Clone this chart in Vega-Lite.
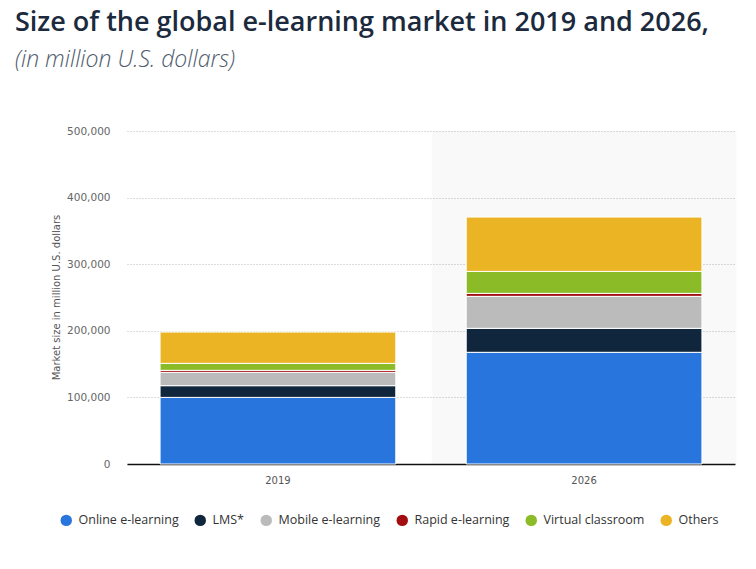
{
  "$schema": "https://vega.github.io/schema/vega-lite/v6.json",
  "width": 608,
  "height": 333,
  "autosize": {"type": "none"},
  "padding": {"left": 127, "top": 131, "right": 21, "bottom": 105},
  "background": "white",
  "title": {
    "text": "Size of the global e-learning market in 2019 and 2026,",
    "subtitle": "(in million U.S. dollars)",
    "anchor": "start",
    "frame": "group",
    "dx": -112,
    "offset": 53,
    "font": "Open Sans",
    "fontSize": 27,
    "fontWeight": 600,
    "color": "#1b2a3d",
    "subtitleFont": "Open Sans",
    "subtitleFontSize": 23,
    "subtitleFontStyle": "italic",
    "subtitleFontWeight": 300,
    "subtitleColor": "#4f5b6b",
    "subtitlePadding": 12
  },
  "config": {
    "view": {"stroke": null},
    "axisY": {
      "domain": false,
      "ticks": false,
      "labelPadding": 17,
      "labelColor": "#666",
      "labelFontSize": 10.5,
      "labelFont": "DejaVu Sans",
      "grid": true,
      "gridDash": [1, 2],
      "gridColor": "#bbbbbb",
      "titleX": -66,
      "titleY": 166,
      "titleFontSize": 10,
      "titleFontWeight": "normal",
      "titleFont": "DejaVu Sans",
      "titleColor": "#555"
    },
    "axisX": {
      "domainColor": "#111",
      "domainWidth": 1.5,
      "ticks": false,
      "grid": false,
      "labelAngle": 0,
      "labelPadding": 11,
      "labelColor": "#555",
      "labelFontSize": 10,
      "labelFont": "DejaVu Sans"
    }
  },
  "datasets": {
    "band": [{"year": "2026", "top": 500000, "bottom": 0}],
    "market": [
      {"year": "2019", "segment": "Online e-learning", "ord": 1, "value": 100000},
      {"year": "2019", "segment": "LMS*", "ord": 2, "value": 17600},
      {"year": "2019", "segment": "Mobile e-learning", "ord": 3, "value": 20000},
      {"year": "2019", "segment": "Rapid e-learning", "ord": 4, "value": 3000},
      {"year": "2019", "segment": "Virtual classroom", "ord": 5, "value": 10500},
      {"year": "2019", "segment": "Others", "ord": 6, "value": 47000},
      {"year": "2026", "segment": "Online e-learning", "ord": 1, "value": 167700},
      {"year": "2026", "segment": "LMS*", "ord": 2, "value": 36000},
      {"year": "2026", "segment": "Mobile e-learning", "ord": 3, "value": 48000},
      {"year": "2026", "segment": "Rapid e-learning", "ord": 4, "value": 4500},
      {"year": "2026", "segment": "Virtual classroom", "ord": 5, "value": 33000},
      {"year": "2026", "segment": "Others", "ord": 6, "value": 81600}
    ]
  },
  "encoding": {
    "x": {
      "field": "year",
      "type": "nominal",
      "title": null,
      "scale": {"domain": ["2019", "2026"], "paddingInner": 0.23, "paddingOuter": 0.108}
    }
  },
  "layer": [
    {
      "data": {"name": "band"},
      "mark": {"type": "bar", "width": {"band": 1.294}, "color": "#000000", "opacity": 0.022},
      "encoding": {
        "y": {
          "field": "top",
          "type": "quantitative",
          "title": "Market size in million U.S. dollars",
          "scale": {"domain": [0, 500000], "nice": false},
          "axis": {"values": [0, 100000, 200000, 300000, 400000, 500000], "format": ",d"}
        },
        "y2": {"field": "bottom"}
      }
    },
    {
      "data": {"name": "market"},
      "mark": {"type": "bar", "stroke": "white", "strokeWidth": 1},
      "encoding": {
        "y": {
          "field": "value",
          "type": "quantitative",
          "stack": "zero",
          "title": "Market size in million U.S. dollars",
          "scale": {"domain": [0, 500000], "nice": false},
          "axis": {"values": [0, 100000, 200000, 300000, 400000, 500000], "format": ",d"}
        },
        "color": {
          "field": "segment",
          "type": "nominal",
          "scale": {
            "domain": ["Online e-learning", "LMS*", "Mobile e-learning", "Rapid e-learning", "Virtual classroom", "Others"],
            "range": ["#2876dd", "#10263d", "#bbbbbb", "#a30d12", "#8bbc28", "#ebb424"]
          },
          "legend": {
            "orient": "none",
            "legendX": -67,
            "legendY": 383,
            "direction": "horizontal",
            "title": null,
            "symbolType": "circle",
            "symbolSize": 130,
            "symbolStrokeWidth": 0,
            "labelFont": "Open Sans",
            "labelFontSize": 12.5,
            "labelColor": "#333",
            "labelOffset": 6,
            "columnPadding": 15
          }
        },
        "order": {"field": "ord", "type": "quantitative"}
      }
    }
  ]
}
